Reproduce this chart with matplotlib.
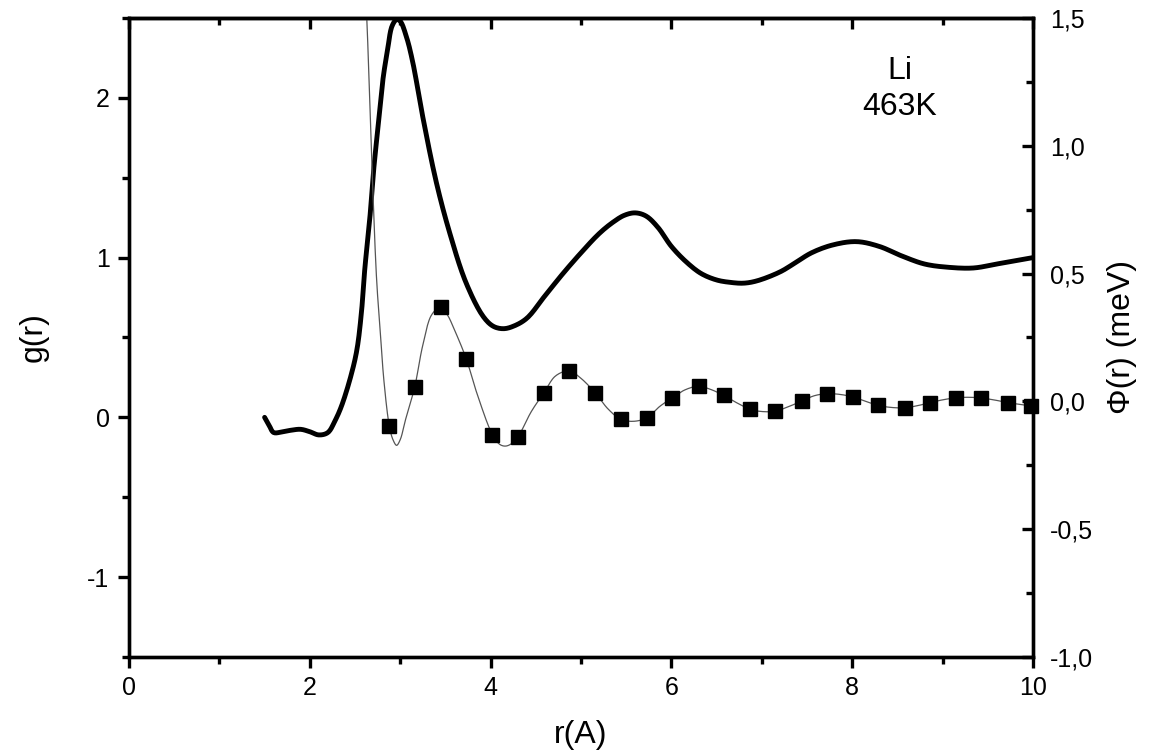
import matplotlib
matplotlib.use("Agg")
import numpy as np
import matplotlib.pyplot as plt
from matplotlib.ticker import MultipleLocator, FuncFormatter

plt.rcParams['font.family'] = ['Liberation Sans', 'DejaVu Sans']

# g(r) curve (left axis)
g_r = [1.50, 1.55, 1.60, 1.70, 1.80, 1.90, 2.00, 2.10, 2.20, 2.28, 2.35, 2.45, 2.52, 2.57,
       2.61, 2.66, 2.70, 2.76, 2.81, 2.86, 2.91, 2.96, 3.00, 3.07, 3.14, 3.25, 3.40, 3.55,
       3.73, 3.92, 4.03, 4.14, 4.25, 4.40, 4.60, 4.80, 5.00, 5.20, 5.35, 5.48, 5.60, 5.72,
       5.85, 6.00, 6.17, 6.33, 6.50, 6.65, 6.80, 6.95, 7.20, 7.35, 7.55, 7.79, 8.05, 8.30,
       8.55, 8.80, 9.05, 9.34, 9.60, 9.80, 10.00]
g_val = [0.00, -0.05, -0.095, -0.09, -0.08, -0.075, -0.09, -0.11, -0.095, -0.02, 0.07, 0.25,
         0.42, 0.65, 0.94, 1.22, 1.51, 1.85, 2.12, 2.30, 2.45, 2.49, 2.48, 2.38, 2.22, 1.88,
         1.47, 1.15, 0.84, 0.63, 0.57, 0.555, 0.57, 0.62, 0.76, 0.90, 1.03, 1.15, 1.22, 1.265,
         1.28, 1.26, 1.19, 1.07, 0.97, 0.90, 0.86, 0.845, 0.84, 0.855, 0.91, 0.96, 1.03, 1.08,
         1.10, 1.07, 1.01, 0.96, 0.94, 0.935, 0.96, 0.98, 1.00]

# Phi(r) thin curve (right axis)
phi_line_r = [2.60, 2.63, 2.70, 2.74, 2.78, 2.82, 2.88, 2.92, 2.96, 3.00, 3.06, 3.16, 3.25,
              3.35, 3.45, 3.52, 3.60, 3.73, 3.85, 4.02, 4.10, 4.16, 4.22, 4.30, 4.45, 4.59,
              4.72, 4.87, 5.00, 5.16, 5.30, 5.44, 5.58, 5.73, 5.87, 6.01, 6.15, 6.30, 6.44,
              6.58, 6.72, 6.87, 7.01, 7.15, 7.30, 7.44, 7.58, 7.72, 7.87, 8.01, 8.15, 8.29,
              8.44, 8.58, 8.72, 8.86, 9.00, 9.15, 9.29, 9.43, 9.58, 9.72, 9.86, 9.98]
phi_line_v = [1.70, 1.50, 0.80, 0.47, 0.27, 0.08, -0.097, -0.15, -0.172, -0.15, -0.07, 0.056,
              0.22, 0.34, 0.369, 0.34, 0.28, 0.167, 0.03, -0.13, -0.168, -0.175, -0.168, -0.14,
              -0.04, 0.034, 0.10, 0.119, 0.09, 0.032, -0.03, -0.070, -0.078, -0.064, -0.02,
              0.014, 0.045, 0.059, 0.046, 0.023, -0.005, -0.031, -0.040, -0.038, -0.02, 0.001,
              0.022, 0.030, 0.027, 0.017, 0.0, -0.016, -0.024, -0.025, -0.017, -0.005, 0.006,
              0.014, 0.016, 0.013, 0.005, -0.005, -0.012, -0.018]

# Phi(r) square markers
phi_pts_r = [2.88, 3.16, 3.45, 3.73, 4.02, 4.30, 4.59, 4.87, 5.16, 5.44, 5.73, 6.01, 6.30,
             6.58, 6.87, 7.15, 7.44, 7.72, 8.01, 8.29, 8.58, 8.86, 9.15, 9.43, 9.72, 9.98]
phi_pts_v = [-0.097, 0.056, 0.369, 0.167, -0.130, -0.140, 0.034, 0.119, 0.032, -0.070,
             -0.064, 0.014, 0.059, 0.023, -0.031, -0.038, 0.001, 0.030, 0.017, -0.016,
             -0.025, -0.005, 0.014, 0.013, -0.005, -0.018]


def smooth_path(xs, ys, ax_, n=12):
    """Render a line through the given points with centripetal Catmull-Rom
    segments computed in display space (line style only; data unchanged)."""
    pts = ax_.transData.transform(np.column_stack([xs, ys]))
    P = np.vstack([2 * pts[0] - pts[1], pts, 2 * pts[-1] - pts[-2]])
    out = []
    for i in range(1, len(P) - 2):
        p0, p1, p2, p3 = P[i - 1], P[i], P[i + 1], P[i + 2]
        t0 = 0.0
        t1 = t0 + np.linalg.norm(p1 - p0) ** 0.5 + 1e-9
        t2 = t1 + np.linalg.norm(p2 - p1) ** 0.5 + 1e-9
        t3 = t2 + np.linalg.norm(p3 - p2) ** 0.5 + 1e-9
        t = np.linspace(t1, t2, n, endpoint=False)[:, None]
        A1 = (t1 - t) / (t1 - t0) * p0 + (t - t0) / (t1 - t0) * p1
        A2 = (t2 - t) / (t2 - t1) * p1 + (t - t1) / (t2 - t1) * p2
        A3 = (t3 - t) / (t3 - t2) * p2 + (t - t2) / (t3 - t2) * p3
        B1 = (t2 - t) / (t2 - t0) * A1 + (t - t0) / (t2 - t0) * A2
        B2 = (t3 - t) / (t3 - t1) * A2 + (t - t1) / (t3 - t1) * A3
        C = (t2 - t) / (t2 - t1) * B1 + (t - t1) / (t2 - t1) * B2
        out.append(C)
    out.append(pts[-1:])
    out = np.vstack(out)
    d = ax_.transData.inverted().transform(out)
    return d[:, 0], d[:, 1]


fig = plt.figure(figsize=(11.56, 7.56), dpi=100)
ax = fig.add_axes([0.1116, 0.1310, 0.7820, 0.8452])
ax2 = ax.twinx()

ax.set_xlim(0, 10)
ax.set_ylim(-1.5, 2.5)
ax2.set_ylim(-1.0, 1.5)

gx, gy = smooth_path(g_r, g_val, ax)
ax.plot(gx, gy, color='black', lw=3.5, solid_capstyle='round', solid_joinstyle='round', zorder=3)
px_, py_ = smooth_path(phi_line_r, phi_line_v, ax2)
ax2.plot(px_, py_, color='#555555', lw=0.9, zorder=2)
ax2.plot(phi_pts_r, phi_pts_v, ls='none', marker='s', ms=10.5, color='black', zorder=4,
         clip_on=False)

ax.xaxis.set_major_locator(MultipleLocator(2))
ax.xaxis.set_minor_locator(MultipleLocator(1))
ax.yaxis.set_major_locator(MultipleLocator(1))
ax.yaxis.set_minor_locator(MultipleLocator(0.5))
ax2.yaxis.set_major_locator(MultipleLocator(0.5))
ax2.yaxis.set_minor_locator(MultipleLocator(0.25))

ax.xaxis.set_major_formatter(FuncFormatter(lambda v, p: f"{v:g}"))
ax.yaxis.set_major_formatter(FuncFormatter(lambda v, p: f"{v:g}"))
ax2.yaxis.set_major_formatter(FuncFormatter(lambda v, p: f"{v:.1f}".replace('.', ',')))

for a in (ax, ax2):
    for s in a.spines.values():
        s.set_linewidth(2.4)

ax.tick_params(axis='x', which='major', direction='out', length=8, width=2.4, labelsize=18,
               top=False, pad=6)
ax.tick_params(axis='x', which='minor', direction='out', length=5, width=2.4, top=False)
ax.tick_params(axis='y', which='major', direction='out', length=8, width=2.4, labelsize=18, pad=6)
ax.tick_params(axis='y', which='minor', direction='out', length=5, width=2.4)
ax2.tick_params(axis='y', which='major', direction='in', length=8, width=2.4, labelsize=18, pad=12)
ax2.tick_params(axis='y', which='minor', direction='in', length=5, width=2.4)

# top axis: inward ticks, no labels
top = ax.secondary_xaxis('top')
top.xaxis.set_major_locator(MultipleLocator(2))
top.xaxis.set_minor_locator(MultipleLocator(1))
top.tick_params(axis='x', which='major', direction='in', length=8, width=2.4, labeltop=False)
top.tick_params(axis='x', which='minor', direction='in', length=5, width=2.4)
top.spines['top'].set_linewidth(2.4)

ax.set_xlabel('r(A)', fontsize=23, labelpad=14)
ax.set_ylabel('g(r)', fontsize=23, labelpad=28)
ax2.set_ylabel('Φ(r) (meV)', fontsize=23, labelpad=10)

ax.text(8.53, 2.17, 'Li', fontsize=23, ha='center', va='center')
ax.text(8.53, 1.94, '463K', fontsize=23, ha='center', va='center')

fig.savefig('out.png', dpi=100)
